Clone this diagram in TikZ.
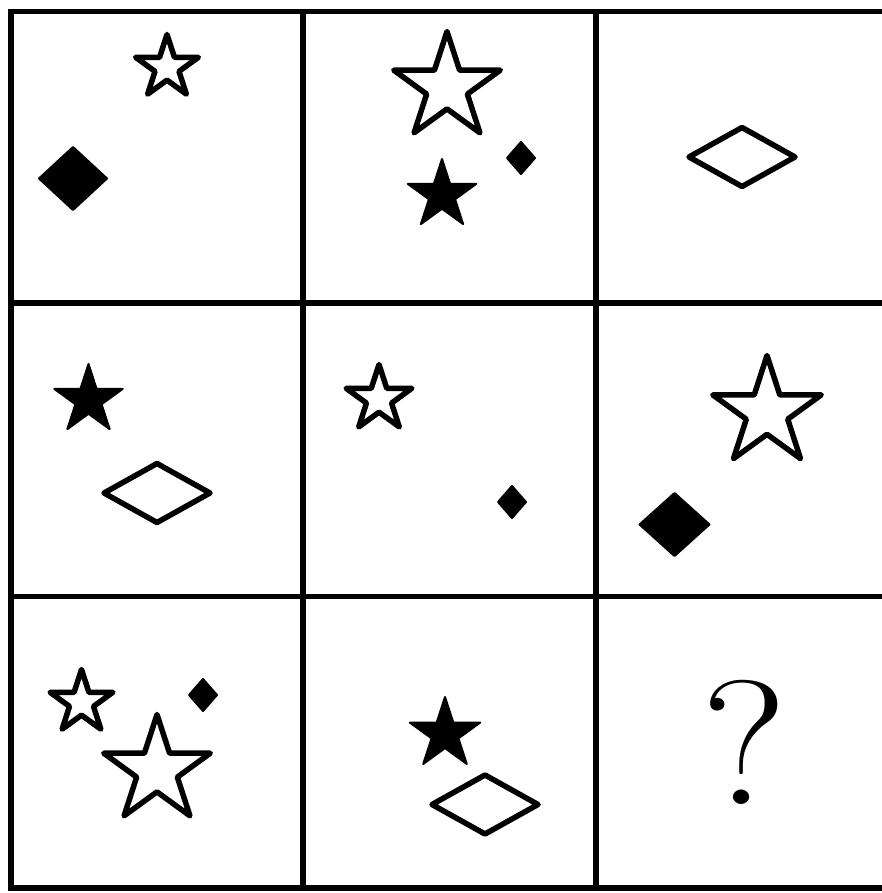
\documentclass[tikz,border=0pt]{standalone}
\begin{document}
\begin{tikzpicture}[x=1pt,y=-1pt,
  gridline/.style={draw=black, line width=5.5pt, line cap=rect},
  outl/.style={draw=black, fill=white, line width=5.5pt, line join=round},
  fillshape/.style={draw=black, fill=black, line width=2pt, line join=round},
  pics/ostar/.style={code={\path[outl] (-90:#1) -- (-54:{0.382*#1}) -- (-18:#1) -- (18:{0.382*#1}) -- (54:#1) -- (90:{0.382*#1}) -- (126:#1) -- (162:{0.382*#1}) -- (198:#1) -- (234:{0.382*#1}) -- cycle;}},
  pics/fstar/.style={code={\path[fillshape] (-90:#1) -- (-54:{0.382*#1}) -- (-18:#1) -- (18:{0.382*#1}) -- (54:#1) -- (90:{0.382*#1}) -- (126:#1) -- (162:{0.382*#1}) -- (198:#1) -- (234:{0.382*#1}) -- cycle;}},
  pics/odia/.style n args={2}{code={\path[outl] (0,-#2) -- (#1,0) -- (0,#2) -- (-#1,0) -- cycle;}},
  pics/fdia/.style n args={2}{code={\path[fillshape] (0,-#2) -- (#1,0) -- (0,#2) -- (-#1,0) -- cycle;}}
]
\useasboundingbox (0,0) rectangle (882,893);
\clip (0,0) rectangle (882,893);
\fill[white] (0,0) rectangle (882,893);

% grid
\draw[gridline] (11,11.5) -- (890,11.5);
\draw[gridline] (11,303) -- (890,303);
\draw[gridline] (11,596.5) -- (890,596.5);
\draw[gridline] (11,888) -- (890,888);
\draw[gridline] (11,11.5) -- (11,888);
\draw[gridline] (303,11.5) -- (303,888);
\draw[gridline] (596,11.5) -- (596,888);

% row 1
\pic at (167,67.5) {ostar=33};
\pic at (73,178.5) {fdia={34}{31.5}};
\pic at (447,87.5) {ostar=56};
\pic at (442,195) {fstar=36};
\pic at (521,158) {fdia={14}{16}};
\pic at (742,157) {odia={53}{29.5}};

% row 2
\pic at (88.5,400) {fstar=36};
\pic at (157,493) {odia={53}{29.5}};
\pic at (379,399) {ostar=34.5};
\pic at (512,502) {fdia={14}{16}};
\pic at (767,412.5) {ostar=57};
\pic at (674.5,524.5) {fdia={35}{31.5}};

% row 3
\pic at (81.5,702.5) {ostar=33};
\pic at (157,770.5) {ostar=56};
\pic at (203,695) {fdia={14}{16}};
\pic at (445,734) {fstar=37};
\pic at (485,804.5) {odia={53}{29.5}};
\node[inner sep=0pt, xscale=1.12, font=\fontsize{177}{177}\selectfont] (q) at (744,742.5) {?};
\end{tikzpicture}
\end{document}
